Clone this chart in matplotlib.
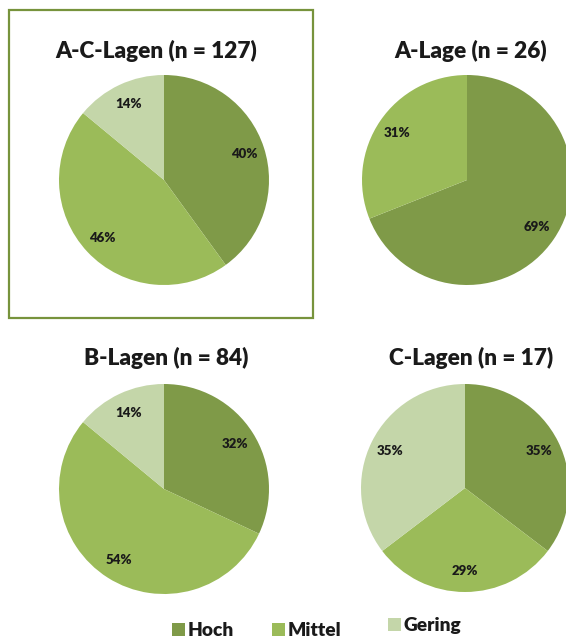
import matplotlib.pyplot as plt
from matplotlib.patches import Rectangle

plt.rcParams['font.family'] = ['Lato', 'DejaVu Sans']

W, H = 566, 638

categories = ["Hoch", "Mittel", "Gering"]
colors = ["#7F9A48", "#9BBB59", "#C4D6A9"]

titles = ["A-C-Lagen (n = 127)", "A-Lage (n = 26)", "B-Lagen (n = 84)", "C-Lagen (n = 17)"]
values = [
    [40, 46, 14],
    [69, 31, 0],
    [32, 54, 14],
    [35, 29, 35],
]

# pixel layout: pie centre, radius, title position
centers = [(164, 180), (467, 180), (164, 489), (465, 488)]
radii = [105, 105, 105, 104]
title_pos = [(156, 51), (471, 51), (166, 358), (471, 358)]

fig = plt.figure(figsize=(W / 100, H / 100), dpi=100)
ax = fig.add_axes([0, 0, 1, 1])

for vals, (cx, cy), r, title, (tx, ty) in zip(values, centers, radii, titles, title_pos):
    keep = [i for i, v in enumerate(vals) if v > 0]
    v = [vals[i] for i in keep]
    c = [colors[i] for i in keep]
    wedges, texts, autotexts = ax.pie(
        v, colors=c, startangle=90, counterclock=False,
        center=(cx, H - cy), radius=r, autopct="%d%%", pctdistance=0.8,
        wedgeprops=dict(linewidth=0),
        textprops=dict(fontsize=9.5, fontweight="heavy", color="#1a1a1a"),
    )
    ax.text(tx, H - ty, title, ha="center", va="center",
            fontsize=16.3, fontweight="heavy", color="#1a1a1a")

# frame around first chart
ax.add_patch(Rectangle((9, H - 318), 304, 308, fill=False,
                       edgecolor="#77933C", linewidth=1.6))

# legend
leg_pos = [(172, 630), (272, 630), (388, 625)]
for name, col, (lx, ly) in zip(categories, colors, leg_pos):
    ax.add_patch(Rectangle((lx, H - ly - 6), 13, 13, facecolor=col, edgecolor="none"))
    ax.text(lx + 16, H - ly, name, ha="left", va="center",
            fontsize=13.8, fontweight="heavy", color="#1a1a1a")

ax.set_xlim(0, W)
ax.set_ylim(0, H)
ax.set_aspect("equal")
ax.axis("off")

fig.savefig("out.png", dpi=100)
